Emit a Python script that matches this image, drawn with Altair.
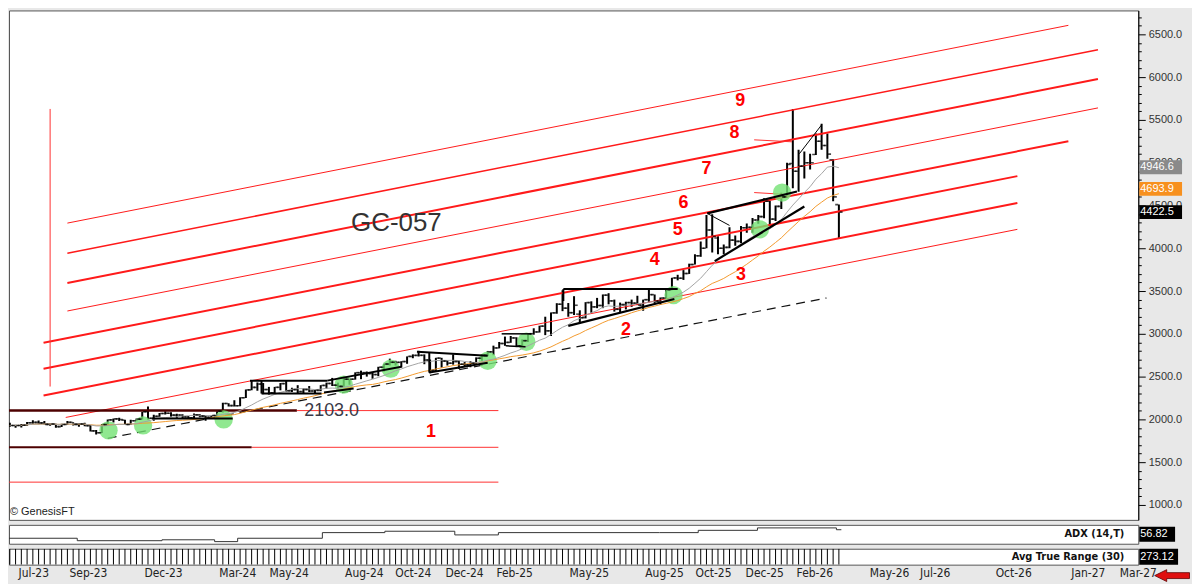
import altair as alt
import pandas as pd

# ---------------- weekly OHLC bars ----------------
bar_first_date = "2023-06-21"
bar_open = [1958, 1929, 1929, 1932, 1961, 1965, 1960, 1942, 1946, 1916,
            1940, 1966, 1942, 1946, 1925, 1866, 1845, 1941, 1994, 2006,
            1992, 1940, 1984, 2003, 2089, 2014, 2037, 2069, 2072, 2050,
            2051, 2029, 2018, 2054, 2038, 2024, 2045, 2096, 2186, 2161,
            2160, 2254, 2345, 2374, 2413, 2349, 2311, 2375, 2418, 2334,
            2348, 2325, 2349, 2332, 2339, 2397, 2420, 2400, 2386, 2470,
            2470, 2546, 2546, 2536, 2524, 2610, 2647, 2668, 2667, 2676,
            2736, 2748, 2749, 2694, 2571, 2716, 2681, 2657, 2676, 2645,
            2638, 2655, 2715, 2748, 2790, 2835, 2887, 2900, 2952, 2859,
            2920, 3001, 3022, 3090, 3035, 3245, 3346, 3300, 3247, 3230,
            3190, 3365, 3315, 3331, 3452, 3385, 3287, 3342, 3365, 3359,
            3335, 3399, 3458, 3382, 3418, 3516, 3653, 3650, 3705, 3810,
            3912, 4000, 4214, 4120, 4000, 4010, 4095, 4080, 4240, 4245,
            4330, 4370, 4550, 4340, 4490, 4600, 4990, 4900, 4960, 5000,
            5095, 5250, 5200, 5035, 4510]
bar_high = [1962, 1938, 1945, 1970, 1990, 1987, 1980, 1952, 1950, 1950,
            1980, 1968, 1955, 1960, 1935, 1875, 1945, 2000, 2010, 2020,
            1995, 1995, 2010, 2090, 2152, 2055, 2075, 2096, 2085, 2065,
            2060, 2040, 2070, 2060, 2045, 2050, 2096, 2195, 2190, 2225,
            2260, 2350, 2448, 2432, 2425, 2380, 2380, 2425, 2450, 2370,
            2400, 2365, 2390, 2345, 2400, 2430, 2485, 2430, 2500, 2475,
            2550, 2570, 2560, 2545, 2615, 2650, 2710, 2685, 2680, 2736,
            2760, 2801, 2760, 2700, 2720, 2720, 2690, 2760, 2690, 2670,
            2680, 2725, 2760, 2800, 2862, 2905, 2968, 2975, 2960, 2935,
            3005, 3065, 3095, 3200, 3250, 3358, 3509, 3360, 3440, 3275,
            3370, 3380, 3420, 3460, 3475, 3400, 3365, 3375, 3400, 3445,
            3400, 3535, 3460, 3425, 3525, 3655, 3690, 3745, 3820, 3930,
            4080, 4390, 4398, 4140, 4045, 4245, 4150, 4260, 4290, 4355,
            4390, 4584, 4555, 4500, 4650, 5000, 5626, 5150, 5130, 5105,
            5340, 5455, 5340, 5040, 4512]
bar_low = [1915, 1903, 1905, 1925, 1950, 1942, 1940, 1925, 1902, 1912,
           1935, 1928, 1915, 1920, 1858, 1823, 1840, 1925, 1965, 1980,
           1937, 1935, 1978, 2000, 2000, 1985, 2030, 2058, 2030, 2015,
           2010, 2011, 2015, 2025, 1985, 2015, 2030, 2080, 2150, 2150,
           2155, 2250, 2340, 2335, 2295, 2290, 2300, 2340, 2325, 2320,
           2305, 2300, 2320, 2305, 2330, 2360, 2390, 2355, 2380, 2405,
           2465, 2470, 2500, 2475, 2505, 2560, 2630, 2630, 2605, 2650,
           2715, 2735, 2645, 2540, 2560, 2605, 2630, 2640, 2590, 2615,
           2610, 2650, 2685, 2740, 2750, 2830, 2860, 2895, 2845, 2850,
           2905, 2990, 3015, 2985, 2975, 3235, 3265, 3200, 3220, 3120,
           3180, 3245, 3300, 3300, 3345, 3260, 3245, 3285, 3315, 3335,
           3270, 3370, 3360, 3340, 3405, 3510, 3625, 3630, 3700, 3810,
           3900, 4000, 3950, 3930, 3930, 4000, 4030, 4060, 4180, 4180,
           4285, 4350, 4270, 4320, 4460, 4590, 4700, 4660, 4815, 4920,
           5090, 5150, 5045, 4550, 4115]
bar_close = [1929, 1929, 1932, 1961, 1965, 1960, 1942, 1946, 1916, 1940,
             1966, 1942, 1946, 1925, 1866, 1845, 1941, 1994, 2006, 1999,
             1940, 1984, 2003, 2089, 2014, 2037, 2069, 2072, 2050, 2051,
             2029, 2018, 2054, 2038, 2024, 2045, 2096, 2186, 2161, 2160,
             2254, 2345, 2374, 2413, 2349, 2311, 2375, 2418, 2334, 2348,
             2325, 2349, 2332, 2339, 2397, 2420, 2400, 2386, 2470, 2470,
             2546, 2546, 2536, 2524, 2610, 2647, 2668, 2667, 2676, 2736,
             2748, 2749, 2694, 2571, 2716, 2681, 2657, 2676, 2645, 2638,
             2655, 2715, 2748, 2790, 2835, 2887, 2900, 2952, 2859, 2920,
             3001, 3022, 3090, 3035, 3245, 3346, 3300, 3247, 3334, 3187,
             3365, 3315, 3331, 3452, 3385, 3287, 3342, 3365, 3359, 3335,
             3399, 3458, 3382, 3418, 3516, 3653, 3650, 3705, 3810, 3912,
             4000, 4214, 4138, 4000, 4010, 4095, 4080, 4240, 4245, 4330,
             4370, 4550, 4340, 4490, 4600, 4980, 4900, 4960, 5000, 5000,
             5250, 5200, 5100, 4600, 4422.5]

gray_ma_weeks = 10
orange_ma_weeks = 20

# ---------------- red parallel channel lines ----------------
chan_from = ["2023-08-30", "2023-08-30", "2023-08-30", "2023-08-30",
             "2023-08-01", "2023-08-01", "2023-08-01", "2023-08-28"]
chan_from_price = [4294, 3942, 3593, 3267, 2895, 2593, 2279, 2023]
chan_to = ["2026-12-29", "2027-02-03", "2027-02-03", "2027-02-03",
           "2026-12-29", "2026-10-28", "2026-10-28", "2026-10-28"]
chan_to_price = [6605, 6320, 5977, 5640, 5250, 4843, 4529, 4221]
chan_weight = [1, 1.5, 2, 1, 2, 2, 2, 1]

# other thin red lines (vertical, horizontals, short pointers)
red_from = ["2023-08-09", "2024-06-04", "2024-04-10", "2023-06-01", "2025-12-12", "2025-12-12"]
red_from_price = [5628, 2103, 1674, 1267, 5267, 4651]
red_to = ["2023-08-09", "2025-02-04", "2025-02-04", "2025-02-04", "2026-01-27", "2026-01-21"]
red_to_price = [2384, 2103, 1674, 1267, 5244, 4628]
red_weight = [1, 1, 1, 1, 1, 1]

# dark horizontal support lines
dark_from = ["2023-06-01", "2023-06-01"]
dark_from_price = [2103, 1674]
dark_to = ["2024-06-04", "2024-04-10"]
dark_to_price = [2103, 1674]
dark_weight = [2.5, 2]

# black pattern lines
blk_from = ["2024-04-08", "2024-04-22", "2024-04-22", "2024-07-07", "2024-07-11",
            "2024-10-28", "2024-11-12", "2024-11-12", "2025-02-08", "2025-02-13",
            "2025-04-24", "2025-04-24", "2025-04-30", "2025-10-16", "2025-10-25",
            "2023-12-11", "2025-10-16", "2026-02-05"]
blk_from_price = [2453, 2302, 2453, 2314, 2453, 2791, 2547, 2780, 3000, 2860,
                  3523, 3523, 3093, 4407, 3849, 2012, 4407, 5105]
blk_to = ["2024-07-11", "2024-07-04", "2024-04-22", "2024-08-12", "2024-10-09",
          "2025-01-22", "2025-01-22", "2024-11-12", "2025-03-16", "2025-03-09",
          "2025-09-10", "2025-04-24", "2025-09-06", "2026-02-02", "2026-02-11",
          "2024-03-18", "2025-11-12", "2026-03-04"]
blk_to_price = [2453, 2302, 2302, 2360, 2616, 2744, 2663, 2547, 3000, 2850,
                3523, 3384, 3407, 4663, 4488, 2012, 4267, 5442]
blk_weight = [2, 2, 2, 2, 2, 2, 2, 2, 1.5, 1.5, 2, 2, 2.2, 2.2, 2.2, 2, 1, 1]

# dashed black trend line
dash_from, dash_from_price = ["2023-10-18"], [1779]
dash_to, dash_to_price = ["2026-03-10"], [3419]

# green highlight circles
circ_date = ["2023-10-19", "2023-11-30", "2024-03-07", "2024-07-31", "2024-09-26",
             "2025-01-22", "2025-03-10", "2025-09-05", "2025-12-19", "2026-01-15"]
circ_price = [1872, 1930, 2000, 2407, 2593, 2686, 2907, 3453, 4221, 4651]

# red count labels
num_text = ["9", "8", "7", "6", "5", "4", "3", "2", "1"]
num_date = ["2025-11-25", "2025-11-18", "2025-10-15", "2025-09-17", "2025-09-10",
            "2025-08-13", "2025-11-26", "2025-07-09", "2024-11-14"]
num_price = [5721, 5349, 4930, 4523, 4209, 3860, 3686, 3047, 1849]

# last-value tags
tag_value = [4946.6, 4693.9, 4422.5]
tag_text = ["4946.6", "4693.9", "4422.5"]
tag_bg = ["#8a8a8a", "#f7901e", "#000000"]

# ADX (14,T)
adx_date = ["2023-06-20", "2023-09-11", "2023-12-23", "2024-02-25", "2024-03-24",
            "2024-07-05", "2024-09-19", "2024-12-13", "2025-02-04", "2025-08-19",
            "2025-10-05", "2025-12-16", "2026-03-22", "2026-03-28"]
adx_value = [26, 18, 21, 15, 26, 44.5, 49, 37, 44.5, 44.5, 52, 60, 54, 54]
adx_last = "56.82"
atr_last = "273.12"

# axis labels
x_label_months = ["2023-07", "2023-09", "2023-12", "2024-03", "2024-05", "2024-08",
                  "2024-10", "2024-12", "2025-02", "2025-05", "2025-08", "2025-10",
                  "2025-12", "2026-02", "2026-05", "2026-07", "2026-10", "2027-01", "2027-03"]
y_tick_values = list(range(1000, 6800, 100))

# ---------------- build ----------------
W, H = 1135, 512
FONT = "Liberation Sans, Arial, sans-serif"
NARROW = "Liberation Sans Narrow, Arial Narrow, DejaVu Sans Condensed, Liberation Sans, sans-serif"

bars = pd.DataFrame({
    "date": pd.date_range(bar_first_date, periods=len(bar_close), freq="7D"),
    "O": bar_open, "H": bar_high, "L": bar_low, "C": bar_close,
})


def seg_df(d1, p1, d2, p2, w):
    return pd.DataFrame({"d1": pd.to_datetime(d1), "p1": p1,
                         "d2": pd.to_datetime(d2), "p2": p2, "w": w})


xs = alt.Scale(domain=[alt.DateTime(year=2023, month=6, date=20),
                       alt.DateTime(year=2027, month=3, date=24)])
ys = alt.Scale(domain=[826, 6779], nice=False, zero=False)

yaxis = alt.Axis(
    orient="right", values=y_tick_values, title=None, grid=False,
    labelExpr="datum.value % 500 === 0 ? format(datum.value, '.1f') : ''",
    tickSize={"condition": {"test": "datum.value % 500 === 0", "value": 7}, "value": 3},
    tickColor="black", domainColor="black", labelColor="#333333",
    labelFont=FONT, labelFontSize=11, labelPadding=3,
)


def Y(field):
    return alt.Y(field, scale=ys, axis=yaxis)


def X(field):
    return alt.X(field, scale=xs, axis=None)


def segs(df, color, dash=None):
    kw = dict(color=color, clip=True)
    if dash:
        kw["strokeDash"] = dash
    return alt.Chart(df).mark_rule(**kw).encode(
        x=X("d1:T"), x2="d2:T", y=Y("p1:Q"), y2="p2:Q",
        strokeWidth=alt.StrokeWidth("w:Q", scale=None),
    )


chan_layer = segs(seg_df(chan_from, chan_from_price, chan_to, chan_to_price, chan_weight), "#ff1a1a")
red_layer = segs(seg_df(red_from, red_from_price, red_to, red_to_price, red_weight), "#ff3030")
dark_layer = segs(seg_df(dark_from, dark_from_price, dark_to, dark_to_price, dark_weight), "#4d0000")
dash_layer = segs(seg_df(dash_from, dash_from_price, dash_to, dash_to_price, [1.2]), "#111111", dash=[9, 6])
blk_layer = segs(seg_df(blk_from, blk_from_price, blk_to, blk_to_price, blk_weight), "#000000")

circles = alt.Chart(pd.DataFrame({"d": pd.to_datetime(circ_date), "p": circ_price})).mark_circle(
    size=340, color="#74e274", opacity=0.8).encode(x=X("d:T"), y=Y("p:Q"))

ma_gray = alt.Chart(bars).transform_window(
    ma="mean(C)", frame=[-(gray_ma_weeks - 1), 0], sort=[alt.SortField("date")]
).mark_line(color="#a3a3a3", strokeWidth=1, clip=True).encode(x=X("date:T"), y=Y("ma:Q"))

ma_orange = alt.Chart(bars).transform_window(
    ma="mean(C)", frame=[-(orange_ma_weeks - 1), 0], sort=[alt.SortField("date")]
).mark_line(color="#f39a2e", strokeWidth=1, clip=True).encode(x=X("date:T"), y=Y("ma:Q"))

hl = alt.Chart(bars).mark_rule(color="black", strokeWidth=2, clip=True).encode(
    x=X("date:T"), y=Y("L:Q"), y2="H:Q")
open_tick = alt.Chart(bars).mark_tick(color="black", orient="horizontal", size=3,
                                      thickness=1.6, xOffset=-2.2, clip=True).encode(
    x=X("date:T"), y=Y("O:Q"))
close_tick = alt.Chart(bars).mark_tick(color="black", orient="horizontal", size=3,
                                       thickness=1.6, xOffset=2.2, clip=True).encode(
    x=X("date:T"), y=Y("C:Q"))

nums = alt.Chart(pd.DataFrame({"t": num_text, "d": pd.to_datetime(num_date), "p": num_price})).mark_text(
    color="#ff0000", fontSize=18, fontWeight="bold", font=FONT, baseline="middle").encode(
    x=X("d:T"), y=Y("p:Q"), text="t:N")

title_txt = alt.Chart(pd.DataFrame({"t": ["GC-057"], "d": pd.to_datetime(["2024-10-03"]), "p": [4291]})).mark_text(
    color="#333333", fontSize=26, font=FONT, baseline="middle").encode(
    x=X("d:T"), y=Y("p:Q"), text="t:N")

lvl_txt = alt.Chart(pd.DataFrame({"t": ["2103.0"], "d": pd.to_datetime(["2024-06-13"]), "p": [2103]})).mark_text(
    color="#3a3a48", fontSize=18, font=FONT, align="left", baseline="middle").encode(
    x=X("d:T"), y=Y("p:Q"), text="t:N")

wm = alt.Chart(pd.DataFrame({"t": ["© GenesisFT"]})).mark_text(
    color="#222222", fontSize=11, font=FONT, align="left", baseline="middle").encode(
    x=alt.value(1), y=alt.value(H - 8), text="t:N")

tags_df = pd.DataFrame({"v": tag_value, "t": tag_text, "bg": tag_bg})
tag_box = alt.Chart(tags_df).mark_rect(yOffset=-7, y2Offset=7).encode(
    x=alt.value(W + 1), x2=alt.value(W + 44),
    y=Y("v:Q"), y2="v:Q",
    color=alt.Color("bg:N", scale=None))
tag_txt = alt.Chart(tags_df).mark_text(color="white", fontSize=11, font=FONT, align="left",
                                       baseline="middle").encode(
    x=alt.value(W + 2), y=Y("v:Q"), text="t:N")

main = alt.layer(
    hl, chan_layer, red_layer, dark_layer, dash_layer, circles, ma_orange, ma_gray,
    open_tick, close_tick, blk_layer, nums, title_txt, lvl_txt, wm, tag_box, tag_txt,
).properties(width=W, height=H)

# ---- ADX panel ----
adx_df = pd.DataFrame({"date": pd.to_datetime(adx_date), "v": adx_value})
adx_line = alt.Chart(adx_df).mark_line(color="#333333", strokeWidth=1, interpolate="step-after",
                                       clip=True).encode(
    x=X("date:T"),
    y=alt.Y("v:Q", scale=alt.Scale(domain=[8, 70]), axis=None))
lab_df = pd.DataFrame({"name": ["ADX (14,T)"], "val": [adx_last]})
adx_name = alt.Chart(lab_df).mark_text(fontSize=11, fontWeight="bold", font=NARROW, align="right",
                                       baseline="middle", color="#111111").encode(
    x=alt.value(W - 14), y=alt.value(9.5), text="name:N")
adx_box = alt.Chart(lab_df).mark_rect(color="black").encode(
    x=alt.value(W + 1), x2=alt.value(W + 37), y=alt.value(2), y2=alt.value(17))
adx_val = alt.Chart(lab_df).mark_text(fontSize=11, font=FONT, align="left", baseline="middle",
                                      color="white").encode(
    x=alt.value(W + 2), y=alt.value(9.5), text="val:N")
adx = alt.layer(adx_line, adx_name, adx_box, adx_val).properties(width=W, height=19)

# ---- ATR panel ----
xaxis = alt.Axis(
    values=[alt.DateTime(year=int(m[:4]), month=int(m[5:]), date=1) for m in x_label_months],
    format="%b-%y", labelAlign="left", ticks=False, domain=False, grid=False, title=None,
    labelFont=NARROW, labelFontSize=12, labelColor="#222222", labelPadding=3,
    labelOverlap=False, labelFlush=False)
atr_bars = alt.Chart(bars).mark_rule(color="black", strokeWidth=1, clip=True).encode(
    x=alt.X("date:T", scale=xs, axis=xaxis), y=alt.value(0), y2=alt.value(16))
atr_df = pd.DataFrame({"name": ["Avg True Range (30)"], "val": [atr_last]})
atr_name = alt.Chart(atr_df).mark_text(fontSize=11, fontWeight="bold", font=NARROW, align="right",
                                       baseline="middle", color="#111111").encode(
    x=alt.value(W - 14), y=alt.value(8), text="name:N")
atr_box = alt.Chart(atr_df).mark_rect(color="black").encode(
    x=alt.value(W + 1), x2=alt.value(W + 40), y=alt.value(0), y2=alt.value(16))
atr_val = alt.Chart(atr_df).mark_text(fontSize=11, font=FONT, align="left", baseline="middle",
                                      color="white").encode(
    x=alt.value(W + 2), y=alt.value(8), text="val:N")
arrow = alt.Chart(atr_df).mark_point(
    shape="M1,-0.17L-0.31,-0.17L-0.31,-0.34L-1,0L-0.31,0.34L-0.31,0.17L1,0.17Z",
    size=1225, filled=True, color="#e01010", stroke="#600000", strokeWidth=0.8, opacity=1).encode(
    x=alt.value(W + 34), y=alt.value(27))
atr = alt.layer(atr_bars, atr_name, atr_box, atr_val, arrow).properties(width=W, height=16)

chart = alt.vconcat(main, adx, atr, spacing=3, padding=0).configure(
    background="#e8e8e8").configure_view(fill="white", stroke="#555555", strokeWidth=1)

chart.save("out.html", embed_options={"renderer": "svg", "actions": False})
